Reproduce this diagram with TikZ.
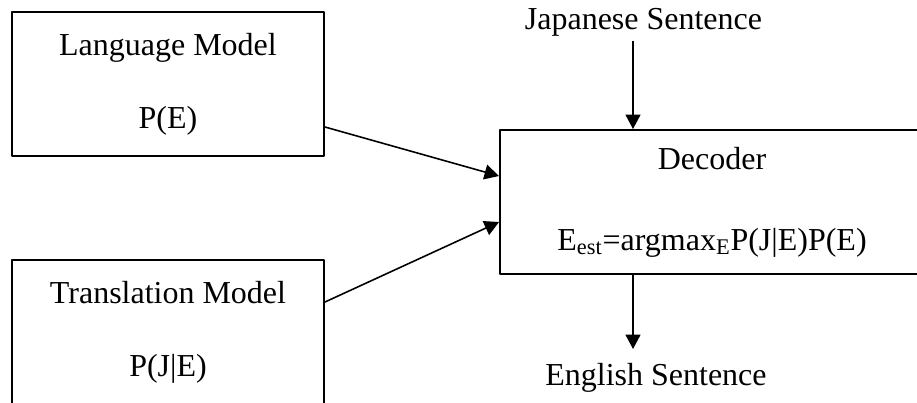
\documentclass[tikz,border=0pt]{standalone}
\usepackage{fontspec}
\setmainfont{Liberation Serif}
\usetikzlibrary{arrows.meta}

\begin{document}
\begin{tikzpicture}[->, >={Triangle[length=0.29cm,width=0.30cm]}, line join=bevel]
	\pgfsetlinewidth{0.9pt}
	\pgfsetcolor{black}

	\tikzstyle{block} = [draw, line width=1.1pt, shape=rectangle, minimum width=6.24cm, minimum height=2.88cm, align=center, font=\fontsize{18.2}{41.5}\selectfont];
	\tikzstyle{wide_block} = [block, minimum width=8.48cm];
	\tikzstyle{io} = [inner sep=0pt, anchor=base, font=\fontsize{18.2}{22}\selectfont];

	\useasboundingbox (0,0) rectangle (18.34,8.04);
	\clip (0,0) rectangle (18.34,8.04);

	\node[block] at (3.36,6.36) (lm) {Language Model\\P(E)};
	\node[block] at (3.36,1.40) (tm) {Translation Model\\P(J|E)};
	\node[wide_block] at (14.24,4.00) (dec) {Decoder\\[4.5pt]E\textsubscript{est}=argmax\textsubscript{E}P(J|E)P(E)};
	\node[io] at (12.87,7.46) (jp) {Japanese Sentence};
	\node[io] at (13.12,0.34) (en) {English Sentence};

	\coordinate (jp_arr) at ([xshift=-0.21cm,yshift=-0.08cm]jp.south);
	\coordinate (en_arr) at ([xshift=-0.46cm,yshift=0.26cm]en.north);

	\draw (jp_arr) to (jp_arr |- dec.north);
	\draw (en_arr |- dec.south) to (en_arr);
	\draw ([yshift=-0.86cm]lm.east) to ([yshift=0.52cm]dec.west);
	\draw ([yshift=0.60cm]tm.east) to ([yshift=-0.40cm]dec.west);
\end{tikzpicture}
\end{document}
